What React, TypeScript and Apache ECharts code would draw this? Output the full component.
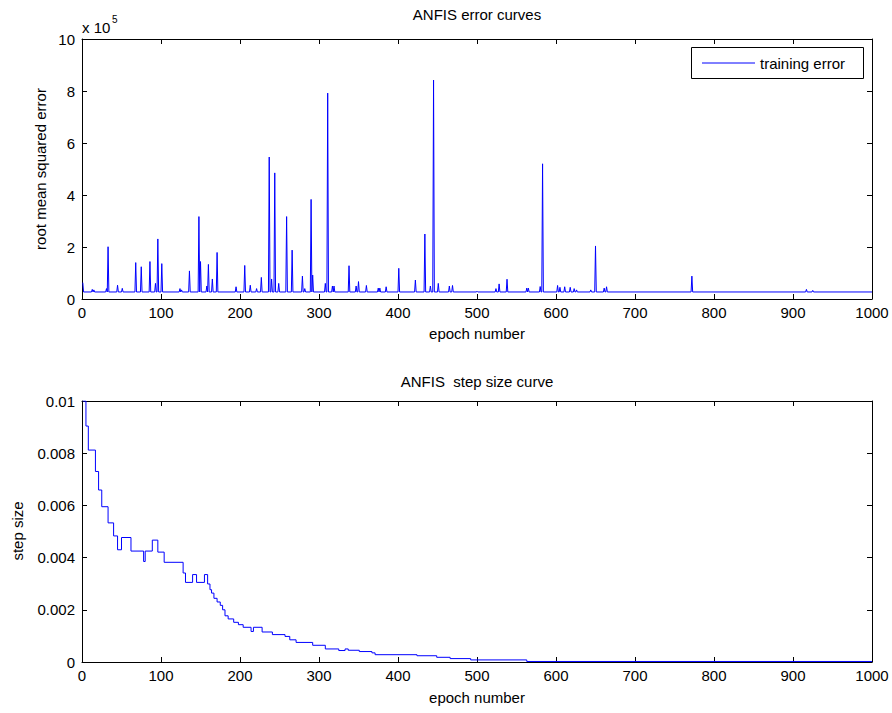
import React, { useEffect, useRef } from "react";
import * as echarts from "echarts";

// ---------- data ----------
const xTickLabels = [0, 100, 200, 300, 400, 500, 600, 700, 800, 900, 1000];
const errTickLabels = [0, 2, 4, 6, 8, 10]; // x 10^5
const stepTickLabels = [0, 0.002, 0.004, 0.006, 0.008, 0.01];

// training error (in units of 10^5): baseline level and spikes
const errBase = 0.27;
const errStart = [1, 0.63];
const errSpikeEpochs = [
  13, 15, 31, 33, 45, 51, 68, 75, 86, 93, 96, 101, 124, 126, 136, 148, 150, 158, 160,
  165, 171, 195, 206, 213, 221, 227, 237, 240, 244, 249, 259, 266, 279, 282, 290, 292,
  308, 311, 317, 319, 338, 347, 350, 360, 375, 377, 385, 401, 422, 434, 441, 445, 451,
  465, 469, 500, 524, 528, 538, 563, 565, 580, 583, 602, 605, 611, 618, 623, 626, 644,
  650, 661, 664, 772, 917, 925,
];
const errSpikeValues = [
  0.37, 0.35, 0.4, 2.01, 0.53, 0.41, 1.4, 1.24, 1.44, 0.6, 2.31, 1.36, 0.4, 0.35, 1.08,
  3.17, 1.44, 0.5, 1.33, 0.77, 1.79, 0.47, 1.29, 0.53, 0.4, 0.83, 5.46, 0.77, 4.85, 0.6,
  3.17, 1.88, 0.88, 0.4, 3.83, 0.92, 0.6, 7.92, 0.5, 0.5, 1.28, 0.5, 0.67, 0.52, 0.42,
  0.42, 0.47, 1.18, 0.73, 2.5, 0.5, 8.42, 0.6, 0.5, 0.52, 0.3, 0.4, 0.58, 0.76, 0.42,
  0.42, 0.48, 5.2, 0.52, 0.45, 0.47, 0.45, 0.4, 0.35, 0.35, 2.04, 0.42, 0.47, 0.88, 0.37,
  0.33,
];

// step size: epoch at which the step size changes, and the new value
const stepEpochs = [
  1, 5, 8, 17, 21, 25, 33, 40, 45, 50, 62, 78, 80, 89, 96, 104, 128, 131, 140, 145, 155,
  159, 162, 164, 167, 171, 175, 178, 181, 185, 192, 198, 204, 214, 217, 228, 241, 257,
  263, 271, 292, 308, 325, 333, 337, 351, 367, 371, 424, 449, 466, 492, 563, 1000,
];
const stepValues = [
  0.01, 0.00904, 0.00812, 0.0073, 0.00659, 0.00595, 0.00533, 0.00483, 0.0043, 0.00477,
  0.00425, 0.00385, 0.00425, 0.00467, 0.00421, 0.00382, 0.00341, 0.00305, 0.00335,
  0.00305, 0.00335, 0.00299, 0.00277, 0.00264, 0.00244, 0.0023, 0.00217, 0.002, 0.00177,
  0.00165, 0.00152, 0.00143, 0.00133, 0.00117, 0.00133, 0.00115, 0.00105, 0.00098,
  0.00085, 0.00075, 0.00064, 0.0005, 0.00044, 0.0005, 0.00045, 0.0004, 0.00035, 0.00028,
  0.00024, 0.00018, 0.00013, 0.00008, 0.00002, 0.00002,
];

const FONT = "'Liberation Sans', Arial, Helvetica, sans-serif";
const BLUE = "#0000ff";

export default function App() {
  const ref = useRef<HTMLDivElement>(null);

  useEffect(() => {
    if (!ref.current) return;
    const chart = echarts.init(ref.current, undefined, { renderer: "svg" });

    const errData: number[][] = [errStart, [errStart[0] + 1, errBase]];
    errSpikeEpochs.forEach((e, i) => {
      errData.push([e - 1, errBase], [e, errSpikeValues[i]], [e + 1, errBase]);
    });
    errData.push([xTickLabels[xTickLabels.length - 1], errBase]);

    const stepData = stepEpochs.map((e, i) => [e, stepValues[i]]);

    const xMin = xTickLabels[0];
    const xMax = xTickLabels[xTickLabels.length - 1];
    const xInt = xTickLabels[1] - xTickLabels[0];

    const mkX = (grid: number, pos: "bottom" | "top") => ({
      type: "value",
      gridIndex: grid,
      position: pos,
      min: xMin,
      max: xMax,
      interval: xInt,
      axisLine: { show: true, onZero: false, lineStyle: { color: "#000", width: 1 } },
      axisTick: { show: true, inside: true, length: 5, lineStyle: { color: "#000" } },
      axisLabel: {
        show: pos === "bottom",
        color: "#000",
        fontSize: 15,
        fontFamily: FONT,
        margin: 6,
        formatter: (v: number) => String(v),
      },
      splitLine: { show: false },
    });

    const mkY = (grid: number, pos: "left" | "right", ticks: number[]) => ({
      type: "value",
      gridIndex: grid,
      position: pos,
      min: ticks[0],
      max: ticks[ticks.length - 1],
      interval: ticks[1] - ticks[0],
      axisLine: { show: true, onZero: false, lineStyle: { color: "#000", width: 1 } },
      axisTick: { show: true, inside: true, length: 5, lineStyle: { color: "#000" } },
      axisLabel: {
        show: pos === "left",
        color: "#000",
        fontSize: 15,
        fontFamily: FONT,
        margin: 7,
        formatter: (v: number) => String(parseFloat(v.toFixed(4))),
      },
      splitLine: { show: false },
    });

    const txt = (text: string, x: number, y: number, extra: any = {}) => ({
      type: "text",
      x,
      y,
      style: {
        text,
        fill: "#000",
        font: `15px ${FONT}`,
        textAlign: "center",
        textVerticalAlign: "middle",
        ...extra,
      },
    });

    chart.setOption({
      animation: false,
      backgroundColor: "#fff",
      grid: [
        { left: 82, top: 39, width: 790, height: 260 },
        { left: 82, top: 401, width: 790, height: 261 },
      ],
      xAxis: [mkX(0, "bottom"), mkX(0, "top"), mkX(1, "bottom"), mkX(1, "top")],
      yAxis: [
        mkY(0, "left", errTickLabels),
        mkY(0, "right", errTickLabels),
        mkY(1, "left", stepTickLabels),
        mkY(1, "right", stepTickLabels),
      ],
      series: [
        {
          name: "training error",
          type: "line",
          xAxisIndex: 0,
          yAxisIndex: 0,
          data: errData,
          symbol: "none",
          lineStyle: { color: BLUE, width: 1 },
          clip: true,
        },
        {
          name: "step size",
          type: "line",
          xAxisIndex: 2,
          yAxisIndex: 2,
          data: stepData,
          step: "end",
          symbol: "none",
          lineStyle: { color: BLUE, width: 1 },
          clip: true,
        },
      ],
      graphic: [
        txt("ANFIS error curves", 477, 14),
        txt("ANFIS  step size curve", 477, 381),
        txt("epoch number", 477, 333),
        txt("epoch number", 477, 697),
        { ...txt("root mean squared error", 40, 169), rotation: Math.PI / 2 },
        { ...txt("step size", 17, 531), rotation: Math.PI / 2 },
        txt("x 10", 82, 27, { textAlign: "left" }),
        txt("5", 112, 19, { textAlign: "left", font: `10px ${FONT}` }),
        {
          type: "rect",
          shape: { x: 691.5, y: 47.5, width: 172, height: 31 },
          style: { fill: "#fff", stroke: "#000", lineWidth: 1 },
        },
        {
          type: "line",
          shape: { x1: 702, y1: 63, x2: 755, y2: 63 },
          style: { stroke: BLUE, lineWidth: 1 },
        },
        txt("training error", 760, 63, { textAlign: "left" }),
      ],
    });

    return () => chart.dispose();
  }, []);

  return (
    <div
      ref={ref}
      style={{ position: "absolute", left: 0, top: 0, width: 892, height: 713 }}
    />
  );
}
